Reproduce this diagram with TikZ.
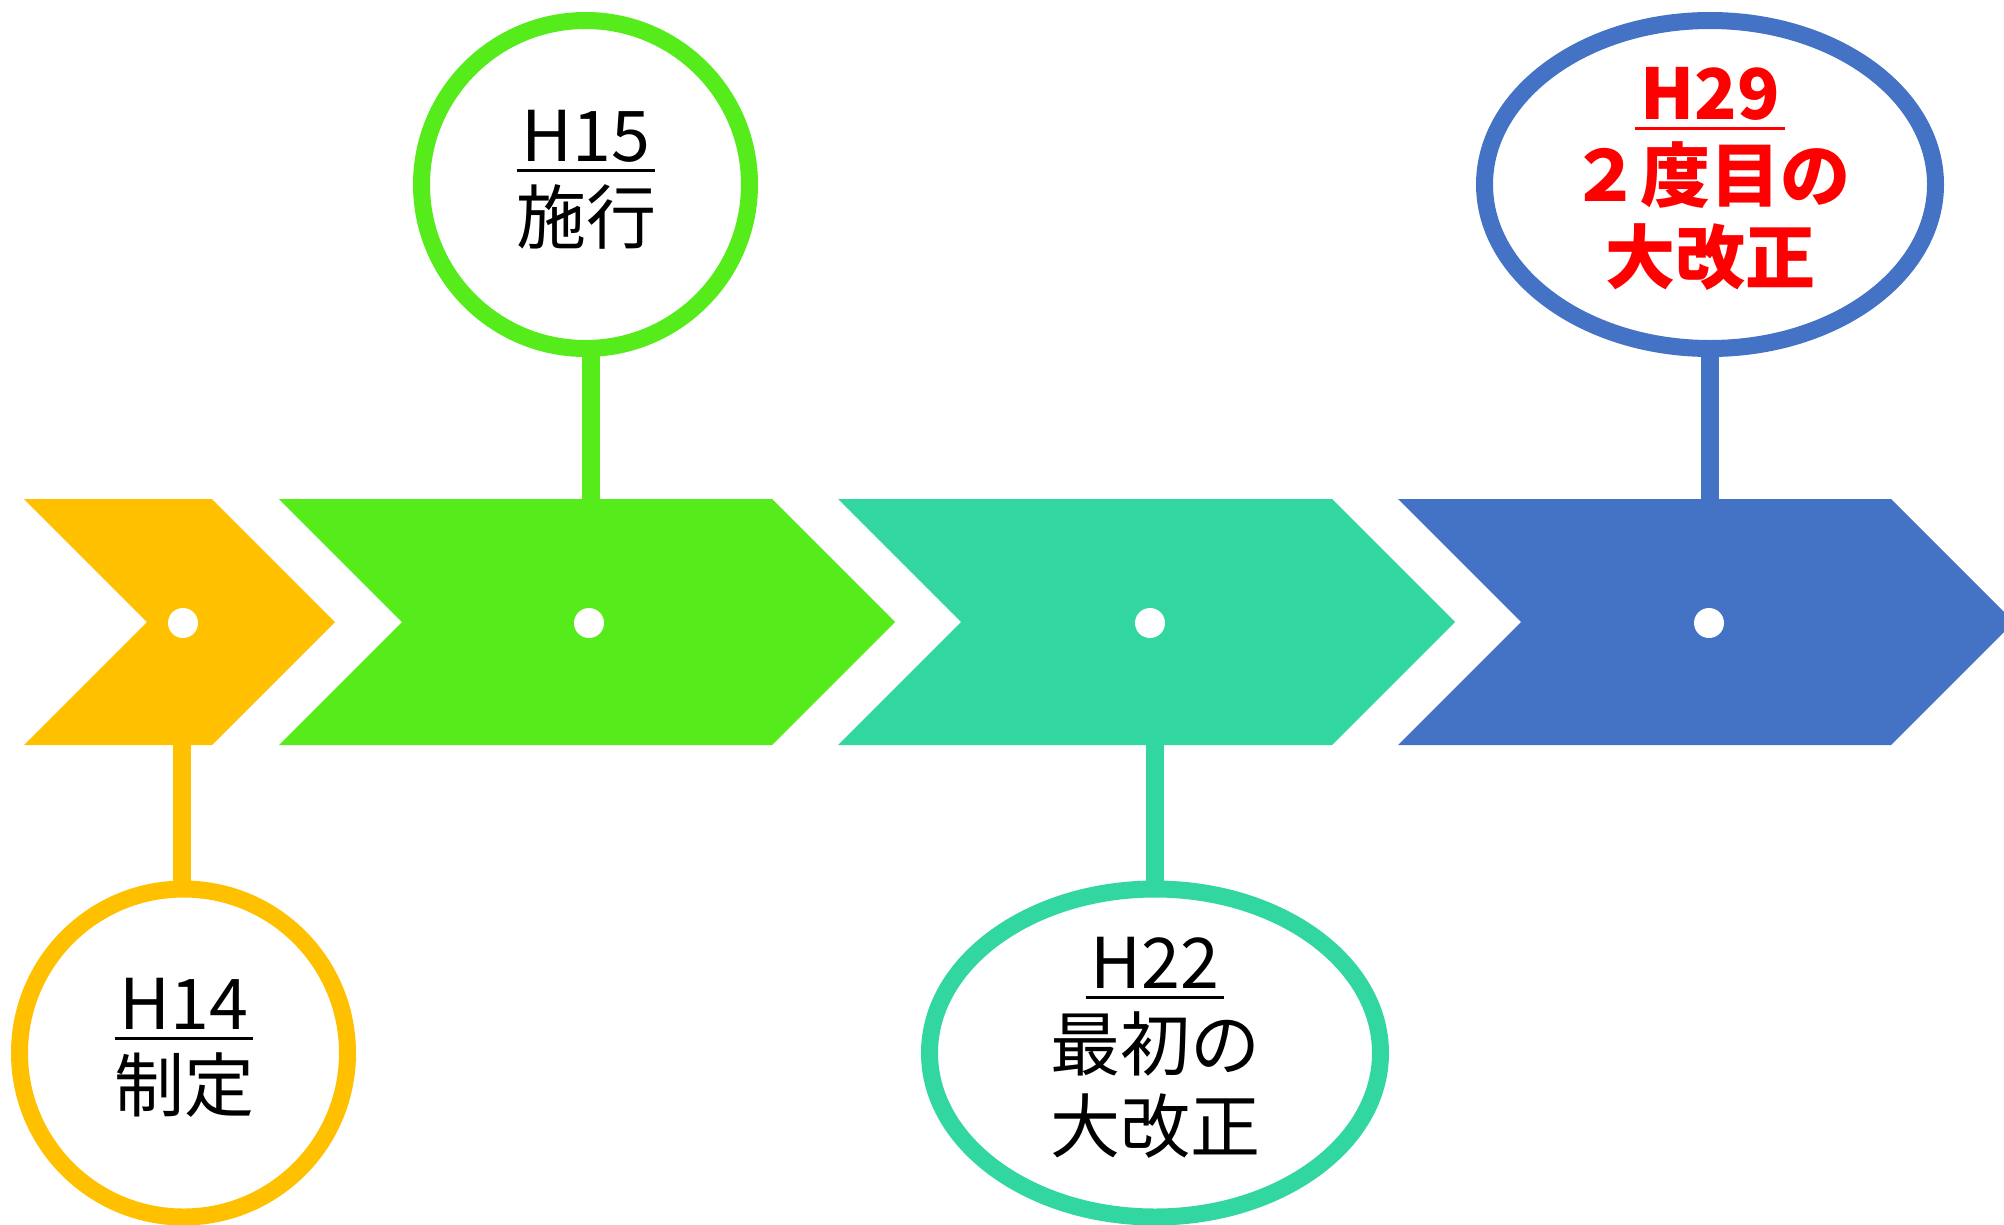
\documentclass[tikz,border=0pt]{standalone}
\usepackage{fontspec}
\newfontfamily\jp{Noto Sans CJK JP}
\usetikzlibrary{shapes.geometric}
\definecolor{cyel}{HTML}{FFC000}
\definecolor{cgrn}{HTML}{56EB1A}
\definecolor{cteal}{HTML}{31D6A1}
\definecolor{cblue}{HTML}{4472C4}
\definecolor{cred}{HTML}{FF0000}
\newcommand\ulH[1]{\setbox0\hbox{#1}\rlap{\kern-5pt\vrule width\dimexpr\wd0+10pt\relax height -8pt depth 11pt}\box0}
\tikzset{
  hole/.style={circle, fill=white, minimum size=30pt, inner sep=0pt, draw=none},
  ring/.style={ellipse, draw=#1, line width=17pt, fill=white, inner sep=0pt, minimum height=328pt},
  stem/.style={draw=#1, line width=18pt},
  lbl/.style={align=center, text=black, font=\jp\fontsize{70}{82}\selectfont, inner sep=0pt, anchor=base},
}
\begin{document}
\begin{tikzpicture}[x=1pt,y=-1pt]
\useasboundingbox (0,0) rectangle (2004,1224);
% chevrons
\fill[cyel]  (24,499) -- (212,499) -- (335,622) -- (212,745) -- (24,745) -- (147,622) -- cycle;
\fill[cgrn]  (279,499) -- (772,499) -- (895,622) -- (772,745) -- (279,745) -- (402,622) -- cycle;
\fill[cteal] (838,499) -- (1332,499) -- (1455,622) -- (1332,745) -- (838,745) -- (961,622) -- cycle;
\fill[cblue] (1398,499) -- (1891,499) -- (2014,622) -- (1891,745) -- (1398,745) -- (1521,622) -- cycle;
% dots
\node[hole] (d1) at (183,623) {};
\node[hole] (d2) at (589,623) {};
\node[hole] (d3) at (1150,623) {};
\node[hole] (d4) at (1709,623) {};
% stem anchors on chevrons
\coordinate (s1) at (182,745);
\coordinate (s2) at (591,499);
\coordinate (s3) at (1155,745);
\coordinate (s4) at (1710,499);
% ring centres
\coordinate (p1) at (183.5,1053);
\coordinate (p2) at (585.5,184.5);
\coordinate (p3) at (1155,1053);
\coordinate (p4) at (1710,184.5);
\draw[stem=cyel] (s1) -- (s1 |- p1);
\draw[stem=cgrn] (s2) -- (s2 |- p2);
\draw[stem=cteal] (s3) -- (s3 |- p3);
\draw[stem=cblue] (s4) -- (s4 |- p4);
\node[ring=cyel, minimum width=328pt] (c1) at (p1) {};
\node[ring=cgrn, minimum width=328pt] (c2) at (p2) {};
\node[ring=cteal, minimum width=451pt] (c3) at (p3) {};
\node[ring=cblue, minimum width=451pt] (c4) at (p4) {};
% labels
\node[lbl] (t1) at (184,1111) {\ulH{H14}\\制定};
\node[lbl] (t2) at (586,243) {\ulH{H15}\\施行};
\node[lbl] (t3) at (1155,1152) {\ulH{H22}\\最初の\\大改正};
\node[lbl, text=cred, font=\jp\bfseries\fontsize{70}{82}\selectfont] (t4) at (1710,283) {\ulH{H29}\\２度目の\\大改正};
\end{tikzpicture}
\end{document}
